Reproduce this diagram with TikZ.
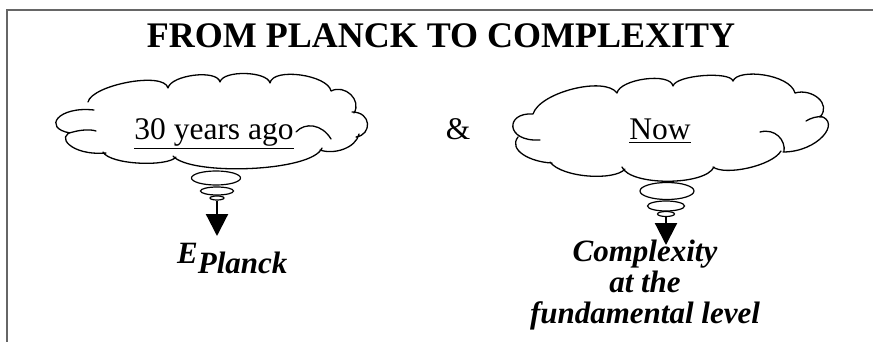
\documentclass[tikz,border=0pt]{standalone}
\usepackage{fontspec}
\setmainfont{Liberation Serif}
\usetikzlibrary{shapes.geometric,arrows.meta}
\begin{document}
\begin{tikzpicture}[x=1pt,y=-1pt,
  cloudline/.style={line width=1.3pt, line cap=round, line join=round},
  bubble/.style={draw, ellipse, line width=1.2pt, inner sep=0pt, fill=white},
  pointer/.style={line width=2.2pt, -{Triangle[width=22pt,length=22pt]}},
  titletext/.style={anchor=base, font=\fontsize{36}{38}\selectfont\bfseries},
  cloudtext/.style={anchor=base, font=\fontsize{31.5}{34}\selectfont},
  resulttext/.style={anchor=base, font=\fontsize{31}{31}\selectfont\bfseries\itshape, align=center}]
\useasboundingbox (0,0) rectangle (873,342);
% frame
\coordinate (fbl) at (7,342);
\coordinate (ftl) at (7,10);
\coordinate (ftr) at (873,10);
\draw[line width=2pt, color=black!60] (fbl) -- (ftl) -- (ftr);
% title
\node[titletext] (title) at (441,48) {FROM PLANCK TO COMPLEXITY};
% left cloud
\draw[cloudline]
  (88,102) .. controls (92,85) and (164,71) .. (168,88)
  .. controls (171,75) and (217,69) .. (220,82)
  .. controls (223,70) and (267,71) .. (270,83)
  .. controls (273,67) and (328,75) .. (331,91)
  .. controls (345,84) and (362,100) .. (354,113)
  (352,112) .. controls (372,112) and (372,135) .. (356,137)
  (359,134) .. controls (356,148) and (334,155) .. (320,150)
  (296,132) .. controls (305,122) and (322,124) .. (331,139)
  (322,148) .. controls (312,172) and (190,176) .. (173,156)
  (176,157) .. controls (168,167) and (110,165) .. (103,152)
  (106,153) .. controls (70,156) and (55,135) .. (73,132)
  .. controls (80,130) and (90,129) .. (96,131)
  (70,133) .. controls (42,128) and (58,106) .. (94,110);
\node[cloudtext] (t1) at (214,140) {\underline{30 years ago}};
\node[bubble, minimum width=49pt, minimum height=14pt] (b1a) at (216,178) {};
\node[bubble, minimum width=33pt, minimum height=8pt] (b1b) at (217,191) {};
\node[bubble, minimum width=14pt, minimum height=4pt] (b1c) at (217,198) {};
\coordinate (a1) at (217,236);
\draw[pointer] (b1c.south) -- (a1);
\node[resulttext, anchor=base west, inner sep=0pt] (r1) at (177,263) {E\raisebox{-10pt}{Planck}};
% ampersand
\node[cloudtext] (amp) at (458,140) {\&};
% right cloud
\draw[cloudline]
  (533,114) .. controls (540,92) and (605,76) .. (617,93)
  .. controls (620,79) and (670,72) .. (673,86)
  .. controls (676,75) and (730,71) .. (733,81)
  .. controls (738,68) and (790,74) .. (795,93)
  .. controls (812,88) and (832,104) .. (820,117)
  (806,121) .. controls (811,118) and (817,116) .. (822,117)
  (820,116) .. controls (842,122) and (818,152) .. (783,152)
  (760,132) .. controls (775,128) and (786,140) .. (784,152)
  (781,151) .. controls (772,166) and (725,176) .. (713,167)
  (714,167) .. controls (705,186) and (630,186) .. (622,167)
  (625,169) .. controls (615,181) and (562,178) .. (550,162)
  (552,163) .. controls (530,162) and (508,150) .. (518,137)
  (540,140) .. controls (505,142) and (505,112) .. (533,114);
\node[cloudtext] (t2) at (660,140) {\underline{Now}};
\node[bubble, minimum width=54pt, minimum height=17pt] (b2a) at (667,191) {};
\node[bubble, minimum width=37pt, minimum height=10pt] (b2b) at (666,206) {};
\node[bubble, minimum width=17pt, minimum height=5pt] (b2c) at (666,214) {};
\coordinate (a2) at (666,245);
\draw[pointer] (b2c.south) -- (a2);
\node[resulttext, inner sep=0pt] (r2) at (645,323) {Complexity\\at the\\fundamental level};
\end{tikzpicture}
\end{document}
